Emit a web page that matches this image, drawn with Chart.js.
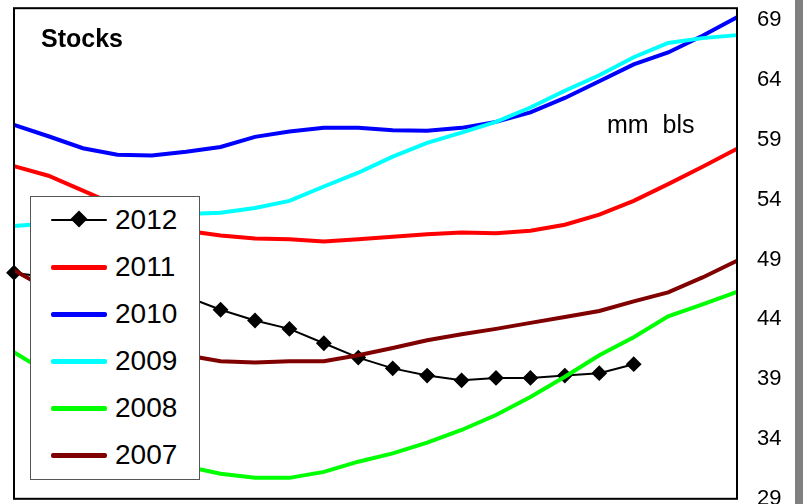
<!DOCTYPE html>
<html><head><meta charset="utf-8">
<script src="https://cdn.jsdelivr.net/npm/chart.js@4/dist/chart.umd.min.js"></script>
<style>
html,body{margin:0;padding:0;background:#fff;width:803px;height:504px;overflow:hidden;font-family:Arial,"Liberation Sans",sans-serif;}
#wrap{position:absolute;left:0;top:-25px;width:795px;height:557px;}
#strip{position:absolute;left:795px;top:0;width:8px;height:504px;background:#808080;}
#title{position:absolute;left:41px;top:24px;font-weight:bold;font-size:25px;}
#unit{position:absolute;left:607px;top:110px;font-size:25px;}
#legend{position:absolute;left:30px;top:196px;width:170px;height:284px;border:1px solid #555;background:#fff;box-sizing:border-box;}
.item{position:absolute;left:20px;height:30px;display:flex;align-items:center;font-size:28px;}
.sw{width:56px;height:5px;margin-right:8px;border-radius:2px;position:relative;}
</style></head><body>
<div id="wrap"><canvas id="c" width="795" height="557"></canvas></div>
<div id="strip"></div>
<div id="title">Stocks</div>
<div id="unit">mm&nbsp; bls</div>
<div id="legend"></div>
<script>
const weeks = Array.from({length:22},(_,i)=>'W'+(i+1));
const s2012 = [47.9,47.5,47.0,46.6,46.3,45.9,44.8,43.9,43.2,42.0,40.8,39.9,39.3,38.9,39.1,39.1,39.3,39.5,40.25];
const s2011 = [56.8,56.0,54.75,53.5,52.25,51.4,51.0,50.75,50.7,50.5,50.7,50.9,51.1,51.25,51.2,51.4,51.9,52.75,53.9,55.3,56.75,58.25];
const s2010 = [60.25,59.3,58.3,57.75,57.7,58.0,58.4,59.25,59.7,60.0,60.0,59.8,59.75,60.0,60.5,61.3,62.5,63.9,65.3,66.3,67.7,69.25];
const s2009 = [51.8,52.0,52.3,52.5,52.7,52.8,52.9,53.3,53.9,55.1,56.25,57.6,58.75,59.6,60.5,61.7,63.1,64.4,65.9,67.1,67.5,67.75];
const s2008 = [41.25,39.5,37.5,35.5,33.7,31.7,31.1,30.75,30.75,31.25,32.1,32.8,33.7,34.75,36.0,37.5,39.2,41.0,42.5,44.25,45.25,46.3];
const s2007 = [48.1,46.5,44.8,43.3,42.0,41.0,40.5,40.4,40.5,40.5,41.0,41.6,42.25,42.75,43.2,43.7,44.2,44.7,45.5,46.25,47.5,48.9];
const yTicks = [29,34,39,44,49,54,59,64,69];

const series = [
 {label:'2012',data:s2012,color:'#000000',marker:true,width:2},
 {label:'2011',data:s2011,color:'#ff0000',width:4},
 {label:'2010',data:s2010,color:'#0000ff',width:4},
 {label:'2009',data:s2009,color:'#00ffff',width:4},
 {label:'2008',data:s2008,color:'#00ff00',width:4},
 {label:'2007',data:s2007,color:'#800000',width:4}
];
const lg=document.getElementById('legend');
series.forEach((s,i)=>{
  const d=document.createElement('div');d.className='item';d.style.top=(8+i*47)+'px';
  const sw=document.createElement('div');sw.className='sw';sw.style.background=s.color;
  sw.style.height=s.marker?'2px':'5px';
  if(s.marker){const m=document.createElement('div');m.style.cssText='position:absolute;left:22px;top:-6px;width:12px;height:12px;background:#000;transform:rotate(45deg);';sw.appendChild(m);}
  d.appendChild(sw);d.appendChild(document.createTextNode(s.label));lg.appendChild(d);
});

const border={id:'border',afterDraw(c){const a=c.chartArea,x=c.ctx;x.save();x.strokeStyle='#000';x.lineWidth=2;x.strokeRect(a.left,a.top,a.right-a.left,a.bottom-a.top);x.restore();}};
new Chart(document.getElementById('c'),{
 type:'line',
 data:{labels:weeks,datasets:series.slice().reverse().map(s=>({label:s.label,data:s.data,borderColor:s.color,backgroundColor:s.color,borderWidth:s.width,pointRadius:s.marker?6.5:0,pointStyle:'rectRot',tension:0}))},
 options:{responsive:false,animation:false,
  layout:{padding:{left:14,top:5,bottom:4,right:0}},
  plugins:{legend:{display:false},tooltip:{enabled:false}},
  scales:{
   x:{display:false,offset:false},
   y:{position:'right',min:29,max:70,grid:{display:false,drawTicks:false},border:{display:false},
      afterBuildTicks(ax){ax.ticks=yTicks.map(v=>({value:v}));},
      afterFit(ax){ax.width=58;},
      ticks:{padding:20,color:'#000',font:{family:'Arial',size:22}}}
  }},
 plugins:[border]
});
</script></body></html>
